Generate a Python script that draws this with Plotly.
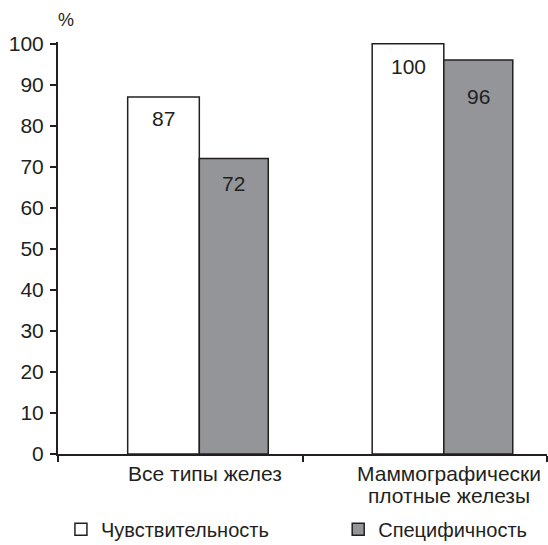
import plotly.graph_objects as go

# Data
categories = ["Все типы желез", "Маммографически<br>плотные железы"]
series_names = ["Чувствительность", "Специфичность"]
sensitivity = [87, 100]
specificity = [72, 96]
y_ticks = [0, 10, 20, 30, 40, 50, 60, 70, 80, 90, 100]

# Styling
FONT = "Liberation Sans, Arial, sans-serif"
INK = "#231f20"
SIZE = 21
fills = ["#ffffff", "#939598"]
bar_offsets = [-0.215, 0.078]
bar_widths = [0.293, 0.282]
value_label_shift = [[-22, -23], [-25, -36]]  # per trace, per category (px)
legend_ids = ["legend", "legend2"]
legend_x = [0.006, 0.573]

xpos = list(range(len(categories)))
series = [sensitivity, specificity]

fig = go.Figure()
for name, vals, fill, off, w, lg in zip(series_names, series, fills, bar_offsets,
                                        bar_widths, legend_ids):
    fig.add_trace(go.Bar(
        x=xpos, y=vals, name=name,
        offset=off, width=w,
        marker=dict(color=fill, line=dict(color=INK, width=1.5)),
        legend=lg, hoverinfo="skip",
    ))

annotations = []
# value labels inside bars
for s, (vals, off, w) in enumerate(zip(series, bar_offsets, bar_widths)):
    for i, v in enumerate(vals):
        annotations.append(dict(
            x=xpos[i] + off + w / 2, y=v, xref="x", yref="y",
            text=str(v), showarrow=False, yanchor="middle",
            yshift=value_label_shift[s][i],
            font=dict(family=FONT, size=SIZE, color=INK),
        ))
# category labels under the axis (smaller base size keeps the line spacing tight)
for i, c in enumerate(categories):
    lines = "<br>".join(f"<span style='font-size:{SIZE}px'>{part}</span>"
                        for part in c.split("<br>"))
    annotations.append(dict(
        x=xpos[i] + 0.1, y=0, xref="x", yref="y",
        text=lines, showarrow=False, yanchor="top", yshift=-6,
        font=dict(family=FONT, size=17, color=INK),
    ))
# unit label
annotations.append(dict(
    x=0.016, y=1.0, xref="paper", yref="paper", text="%",
    showarrow=False, xanchor="center", yanchor="bottom", yshift=10,
    font=dict(family=FONT, size=18, color=INK),
))

legend_style = dict(
    orientation="h", xanchor="left", y=-0.23, yanchor="bottom",
    font=dict(family=FONT, size=20, color=INK),
    itemclick=False, itemdoubleclick=False, bgcolor="rgba(0,0,0,0)",
)

fig.update_layout(
    width=548, height=545,
    margin=dict(l=58, r=1, t=42, b=91, autoexpand=False),
    paper_bgcolor="white", plot_bgcolor="white",
    font=dict(family=FONT, size=SIZE, color=INK),
    barmode="overlay",
    showlegend=True,
    legend=dict(x=legend_x[0], **legend_style),
    legend2=dict(x=legend_x[1], **legend_style),
    annotations=annotations,
)
fig.update_xaxes(
    range=[-0.5, len(categories) - 0.5],
    tickvals=[x - 0.5 for x in range(len(categories) + 1)],
    showticklabels=False, ticks="outside", ticklen=6, tickwidth=1.5, tickcolor=INK,
    showline=True, linecolor=INK, linewidth=2, showgrid=False, zeroline=False,
    fixedrange=True,
)
fig.update_yaxes(
    range=[0, 100.4], tickvals=y_ticks,
    ticks="outside", ticklen=6, tickwidth=1.5, tickcolor=INK,
    showline=True, linecolor=INK, linewidth=2, showgrid=False, zeroline=False,
    tickfont=dict(family=FONT, size=SIZE, color=INK), ticklabelstandoff=2,
    fixedrange=True,
)

fig.write_html("out.html")
